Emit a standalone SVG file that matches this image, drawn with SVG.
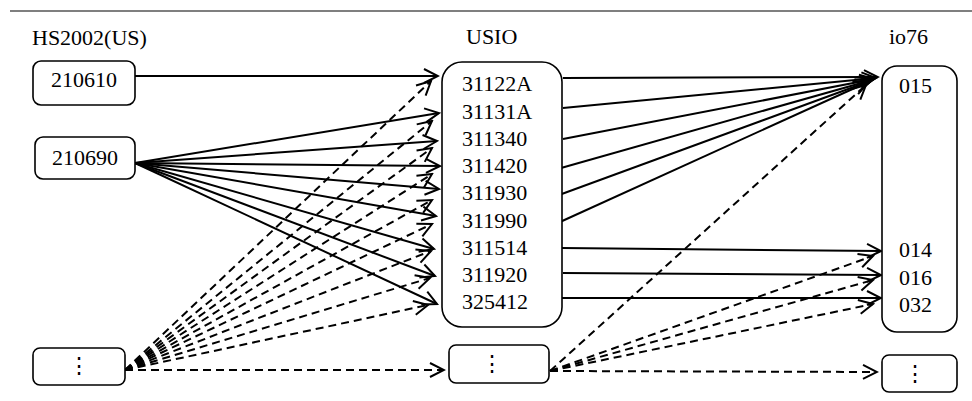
<svg xmlns="http://www.w3.org/2000/svg" width="972" height="401" viewBox="0 0 972 401">
<style>
text{font-family:"Liberation Serif","Times New Roman",serif;font-size:22px;fill:#000}
.dots{font-family:"DejaVu Serif","Liberation Serif",serif;font-size:22px}
.box{fill:#fff;stroke:#000;stroke-width:1.6}
.s{stroke:#000;stroke-width:2;fill:none;marker-end:url(#ah)}
.d{stroke:#000;stroke-width:2;fill:none;stroke-dasharray:8,5;marker-end:url(#ah)}
</style>
<defs>
<marker id="ah" markerUnits="userSpaceOnUse" markerWidth="18" markerHeight="18" viewBox="-16 -9 18 18" refX="0" refY="0" orient="auto">
<path d="M-14,-7 L0,0 L-14,7" fill="none" stroke="#000" stroke-width="2"/>
</marker>
</defs>
<line x1="10" y1="11" x2="972" y2="11" stroke="#555" stroke-width="1.5"/>
<text x="32" y="45">HS2002(US)</text>
<text x="466" y="44">USIO</text>
<text x="889" y="44">io76</text>

<g id="connectors">
<line class="s" x1="135" y1="76" x2="438" y2="76"/>
<line class="s" x1="135" y1="163" x2="439" y2="113"/>
<line class="s" x1="135" y1="163" x2="437" y2="141"/>
<line class="s" x1="135" y1="163" x2="440" y2="166"/>
<line class="s" x1="135" y1="163" x2="439" y2="189"/>
<line class="s" x1="135" y1="163" x2="436" y2="216"/>
<line class="s" x1="135" y1="163" x2="434" y2="249"/>
<line class="s" x1="135" y1="163" x2="435" y2="276"/>
<line class="s" x1="135" y1="163" x2="437" y2="304"/>

<line class="d" x1="125" y1="370" x2="431" y2="81"/>
<line class="d" x1="125" y1="370" x2="432" y2="121"/>
<line class="d" x1="125" y1="370" x2="432" y2="148"/>
<line class="d" x1="125" y1="370" x2="432" y2="174"/>
<line class="d" x1="125" y1="370" x2="432" y2="200"/>
<line class="d" x1="125" y1="370" x2="432" y2="224"/>
<line class="d" x1="125" y1="370" x2="431" y2="251"/>
<line class="d" x1="125" y1="370" x2="430" y2="278"/>
<line class="d" x1="125" y1="370" x2="428" y2="305"/>
<line class="d" x1="125" y1="370" x2="444" y2="370"/>

<line class="s" x1="563" y1="78" x2="878" y2="77"/>
<line class="s" x1="563" y1="108" x2="876" y2="78"/>
<line class="s" x1="563" y1="139" x2="874" y2="79"/>
<line class="s" x1="561" y1="168" x2="872" y2="80"/>
<line class="s" x1="559" y1="195" x2="870" y2="81"/>
<line class="s" x1="560" y1="222" x2="868" y2="82"/>
<line class="s" x1="562" y1="248" x2="881" y2="251"/>
<line class="s" x1="563" y1="273" x2="881" y2="275"/>
<line class="s" x1="558" y1="298" x2="881" y2="298"/>

<line class="d" x1="550" y1="371" x2="866" y2="85"/>
<line class="d" x1="550" y1="371" x2="873" y2="256"/>
<line class="d" x1="550" y1="371" x2="873" y2="280"/>
<line class="d" x1="550" y1="371" x2="873" y2="304"/>
<line class="d" x1="550" y1="371" x2="877" y2="372"/>
</g>

<g id="n210610"><rect class="box" x="33" y="61" width="102" height="44" rx="8"/><text x="84" y="87" text-anchor="middle">210610</text></g>
<g id="n210690"><rect class="box" x="35" y="137" width="100" height="42" rx="8"/><text x="85" y="165" text-anchor="middle">210690</text></g>
<g id="nHSmore"><rect class="box" x="33" y="348" width="92" height="37" rx="7"/><text class="dots" x="79" y="373" text-anchor="middle">⋮</text></g>

<g id="nUSIO"><rect class="box" x="442" y="62" width="120" height="265" rx="20"/>
<text x="462" y="91">31122A</text>
<text x="462" y="118.5">31131A</text>
<text x="462" y="145.5">311340</text>
<text x="462" y="173">311420</text>
<text x="462" y="200">311930</text>
<text x="462" y="227.5">311990</text>
<text x="462" y="254.5">311514</text>
<text x="462" y="282">311920</text>
<text x="462" y="309">325412</text>
</g>
<g id="nUSIOmore"><rect class="box" x="449" y="345" width="100" height="38" rx="7"/><text class="dots" x="492" y="371" text-anchor="middle">⋮</text></g>

<g id="nio76"><rect class="box" x="882" y="66" width="75" height="266" rx="15"/>
<text x="899" y="93">015</text>
<text x="899" y="257">014</text>
<text x="899" y="284.5">016</text>
<text x="899" y="312">032</text>
</g>
<g id="nio76more"><rect class="box" x="882" y="355" width="75" height="37" rx="7"/><text class="dots" x="915" y="381" text-anchor="middle">⋮</text></g>
</svg>
